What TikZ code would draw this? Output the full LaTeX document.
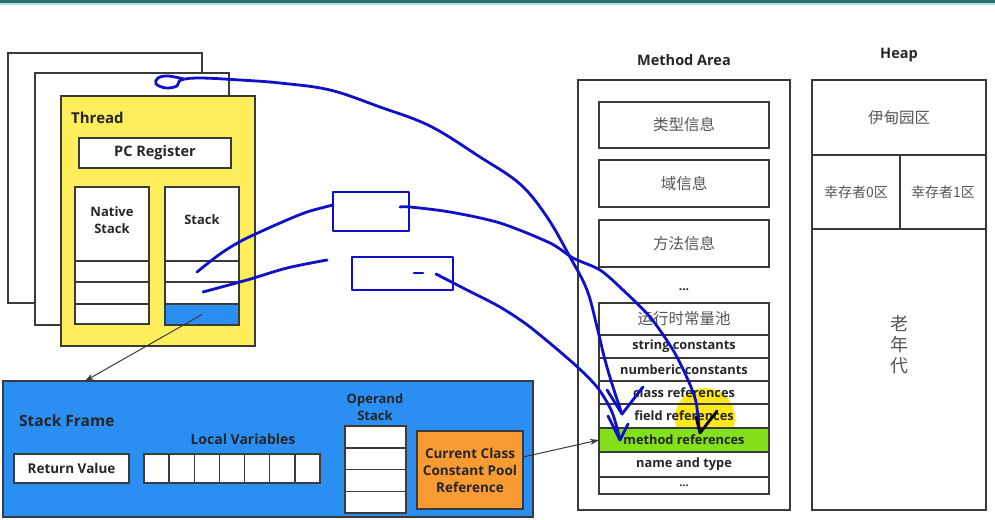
\documentclass[tikz,border=0pt]{standalone}
\usepackage{fontspec}
\setmainfont{Open Sans}
\newfontfamily\cjkfont{Noto Sans CJK SC}
\usetikzlibrary{arrows.meta}
\definecolor{lc}{HTML}{3A3A3A}
\definecolor{tc}{HTML}{262626}
\definecolor{cjkc}{HTML}{555555}
\definecolor{thy}{HTML}{FDEE5C}
\definecolor{sfb}{HTML}{2B8EF2}
\definecolor{orng}{HTML}{F89B33}
\definecolor{grn}{HTML}{82E11A}
\definecolor{pen}{HTML}{1010C8}
\definecolor{hil}{HTML}{FFE81A}
\definecolor{tealA}{HTML}{2D6E68}
\definecolor{tealB}{HTML}{A8E6E0}
\tikzset{
  bx/.style={draw=lc, line width=1.5pt, inner sep=0pt, outer sep=0pt, anchor=north west, align=center, text=tc},
  en/.style={font=\fontsize{#1}{17}\selectfont\bfseries, text=tc, align=center, inner sep=0pt},
  cn/.style={font=\fontsize{#1}{21}\selectfont\cjkfont, text=cjkc, align=center, inner sep=0pt},
  pen/.style={draw=pen, line width=2.8pt, line cap=round, line join=round},
  conn/.style={draw=lc, line width=1pt, -{Stealth[length=9pt,width=6pt]}},
}
\begin{document}
\begin{tikzpicture}[x=1pt,y=-1pt]
\useasboundingbox (0,0) rectangle (995,519);
\fill[white] (0,0) rectangle (995,519);
\fill[tealA] (0,0) rectangle (995,3);
\fill[tealB] (0,3) rectangle (995,5);

% ---------------- thread pages
\node[bx, fill=white, minimum width=194, minimum height=250] (page1) at (8,53) {};
\node[bx, fill=white, minimum width=194, minimum height=252] (page2) at (35,73) {};
\node[bx, fill=thy, minimum width=194, minimum height=250] (thread) at (61,96) {};
\node[en=15, anchor=west] (threadl) at (71,118) {Thread};
\node[bx, fill=white, minimum width=152, minimum height=30, en=14.5] (pc) at (79,138) {PC Register};
\node[bx, fill=white, minimum width=74, minimum height=137] (native) at (75,187) {};
\node[en=13] (nativel) at (112,220) {Native\\Stack};
\node[bx, minimum width=74, minimum height=21] (n1) at (75,261) {};
\node[bx, minimum width=74, minimum height=22] (n2) at (75,282) {};
\node[bx, minimum width=74, minimum height=20] (n3) at (75,304) {};
\node[bx, fill=white, minimum width=74, minimum height=137] (stack) at (165,187) {};
\node[en=13] (stackl) at (202,220) {Stack};
\node[bx, minimum width=74, minimum height=21] (s1) at (165,261) {};
\node[bx, minimum width=74, minimum height=22] (s2) at (165,282) {};
\node[bx, fill=sfb, minimum width=74, minimum height=21] (sb) at (165,304) {};

% ---------------- stack frame
\node[bx, fill=sfb, minimum width=530, minimum height=136] (sf) at (3,381) {};
\coordinate (sftop) at (85,381);
\node[en=15.5, anchor=west] (sfl) at (19,421) {Stack Frame};
\node[en=14] (lvl) at (243,439) {Local Variables};
\node[bx, fill=white, minimum width=115, minimum height=29, en=13.5] (rv) at (14,454) {Return Value};
\foreach \i in {0,...,6}{
  \node[bx, fill=white, minimum width=25.14, minimum height=29] (lv\i) at (144+\i*25.14,454) {};
}
\node[en=13] (osl) at (375,407) {Operand\\Stack};
\foreach \i in {0,...,3}{
  \node[bx, fill=white, minimum width=61, minimum height=21.75] (os\i) at (345,426+\i*21.75) {};
}
\node[bx, fill=orng, minimum width=106, minimum height=78, en=13.5] (ccp) at (417,431) {Current Class\\Constant Pool\\Reference};

% ---------------- method area
\node[en=14.5] (mal) at (684,60) {Method Area};
\node[bx, fill=white, minimum width=212, minimum height=430] (ma) at (578,80) {};
\node[bx, minimum width=170, minimum height=46, cn=15.5] (ti) at (599,102) {类型信息};
\node[bx, minimum width=170, minimum height=47, cn=15.5] (fi) at (599,160) {域信息};
\node[bx, minimum width=170, minimum height=47, cn=15.5] (mi) at (599,220) {方法信息};
\node[en=12] (madots) at (684,290) {...};
\fill[hil] (705,418) circle[radius=30];
\node[bx, minimum width=170, minimum height=32, cn=15.5] (rcp) at (599,303) {运行时常量池};
\node[bx, minimum width=170, minimum height=23, en=12.8] (sc) at (599,335) {string constants};
\node[bx, minimum width=170, minimum height=23, en=12.8] (nc) at (599,358) {numberic constants};
\node[bx, minimum width=170, minimum height=23, en=12.8] (cr) at (599,381) {class references};
\node[bx, minimum width=170, minimum height=24, en=12.8] (fr) at (599,404) {field references};
\node[bx, fill=grn, minimum width=170, minimum height=24, en=12.8] (mref) at (599,428) {method references};
\node[bx, minimum width=170, minimum height=25, en=12.8] (nt) at (599,452) {name and type};
\node[bx, minimum width=170, minimum height=17, en=11] (pdots) at (599,477) {...};

% ---------------- heap
\node[en=14.5] (hl) at (899,55) {Heap};
\node[bx, fill=white, minimum width=174, minimum height=430] (heap) at (812,80) {};
\node[bx, minimum width=174, minimum height=75, cn=15.5] (eden) at (812,80) {伊甸园区};
\node[bx, minimum width=88, minimum height=74, cn=14] (s0) at (812,155) {幸存者0区};
\node[bx, minimum width=86, minimum height=74, cn=14] (s1r) at (900,155) {幸存者1区};
\node[cn=18] (old) at (899,345) {老\\年\\代};

% ---------------- black connectors
\draw[conn] (sb.center) -- (sftop);
\coordinate (ccpout) at (523,457);
\draw[conn] (ccpout) -- (mref.west);

% ---------------- pen annotations
\node[pen, minimum width=76, minimum height=39, inner sep=0pt, outer sep=0pt, anchor=north west] (r1) at (333,192) {};
\node[pen, minimum width=101, minimum height=33, inner sep=0pt, outer sep=0pt, anchor=north west] (r2) at (352,257) {};
\coordinate (d0) at (414,273);
\coordinate (d1) at (423,273);
\draw[pen] (d0) -- (d1);

\coordinate (a0) at (184,79);
\coordinate (a1) at (622,414);
\draw[pen] plot[smooth, tension=0.6] coordinates {(a0) (168,76) (158,78) (156,84) (166,88) (177,86) (181,80) (200,78) (240,80) (280,83) (330,90) (380,107) (430,126) (480,157) (520,184) (547,217) (570,257) (587,290) (597,327) (605,360) (613,387) (a1)};
\draw[pen] (607,390) -- (a1) -- (643,387);

\coordinate (b0) at (197,272);
\coordinate (b1) at (333,205);
\draw[pen] plot[smooth] coordinates {(b0) (220,254) (243,240) (280,223) (307,212) (b1)};
\coordinate (b2) at (400,207);
\coordinate (b3) at (699,428);
\draw[pen] plot[smooth] coordinates {(b2) (410,207) (450,212) (500,223) (550,243) (573,258) (600,270) (623,290) (650,317) (673,350) (688,380) (696,402) (b3)};
\draw[black, line width=2.8pt, line cap=round, line join=round] (696,417) -- (700,433) -- (717,411);

\coordinate (c0) at (203,292);
\coordinate (c1) at (327,260);
\draw[pen] plot[smooth] coordinates {(c0) (247,280) (287,268) (c1)};
\coordinate (c2) at (436,274);
\coordinate (c3) at (620,440);
\draw[pen] plot[smooth] coordinates {(c2) (467,290) (500,307) (530,327) (573,363) (597,387) (612,412) (c3)};
\draw[pen] (608,416) -- (c3) -- (628,424);
\end{tikzpicture}
\end{document}
